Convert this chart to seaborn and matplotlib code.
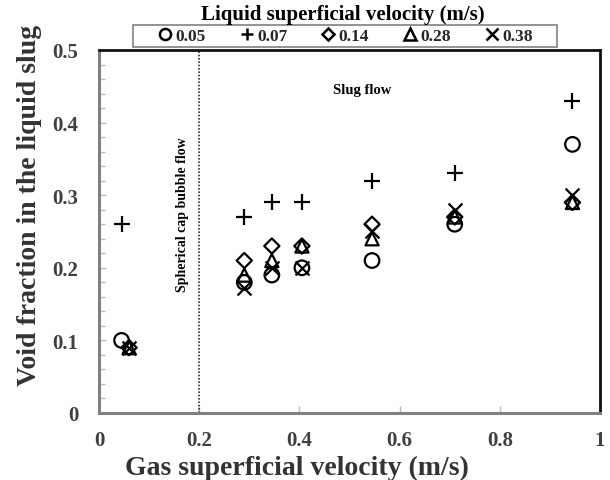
import numpy as np
import pandas as pd
import matplotlib
matplotlib.use("Agg")
import matplotlib.pyplot as plt
import seaborn as sns
from matplotlib.lines import Line2D
from matplotlib.patches import Rectangle
from matplotlib.ticker import MultipleLocator

sns.set_theme(style="white")
plt.rcParams['font.family'] = ['Liberation Serif', 'DejaVu Serif']
plt.rcParams['font.weight'] = 'bold'

# Data
series_labels = ["0.05", "0.07", "0.14", "0.28", "0.38"]
x_first_low = [0.045, 0.29, 0.345, 0.405, 0.545, 0.71, 0.945]
x_first_hi = [0.06, 0.29, 0.345, 0.405, 0.545, 0.71, 0.945]
void_005 = [0.10, 0.18, 0.19, 0.20, 0.21, 0.26, 0.37]
void_007 = [0.26, 0.27, 0.29, 0.29, 0.32, 0.33, 0.43]
void_014 = [0.09, 0.21, 0.23, 0.23, 0.26, 0.27, 0.29]
void_028 = [0.09, 0.19, 0.21, 0.23, 0.24, 0.27, 0.29]
void_038 = [0.09, 0.172, 0.20, 0.20, 0.25, 0.28, 0.30]
x_ticks = [0, 0.2, 0.4, 0.6, 0.8, 1.0]
x_tick_labels = ["0", "0.2", "0.4", "0.6", "0.8", "1"]
y_ticks = [0, 0.1, 0.2, 0.3, 0.4, 0.5]
y_tick_labels = ["0", "0.1", "0.2", "0.3", "0.4", "0.5"]

series = [
    (series_labels[0], x_first_low, void_005, 'o'),
    (series_labels[1], x_first_low, void_007, '+'),
    (series_labels[2], x_first_hi, void_014, 'D'),
    (series_labels[3], x_first_hi, void_028, '^'),
    (series_labels[4], x_first_hi, void_038, 'x'),
]
marker_sizes = {'o': 110, '+': 120, 'D': 60, '^': 90, 'x': 100}
legend_ms = {'o': 8, '+': 9, 'D': 6, '^': 8, 'x': 8}

fig = plt.figure(figsize=(6.1, 4.81), dpi=100)
ax = fig.add_axes([0.1623, 0.1393, 0.8213, 0.7547])

handles = []
for lab, xs, ys, m in series:
    df = pd.DataFrame({"x": xs, "y": ys})
    if m in ('+', 'x'):
        sns.scatterplot(data=df, x="x", y="y", marker=m, color='black',
                        s=marker_sizes[m], linewidth=1.6, ax=ax, zorder=3)
    else:
        sns.scatterplot(data=df, x="x", y="y", marker=m, facecolor='none',
                        edgecolor='black', s=marker_sizes[m], linewidth=1.6,
                        ax=ax, zorder=3)
    handles.append(Line2D([], [], linestyle='none', marker=m,
                          markerfacecolor='none', markeredgecolor='black',
                          markeredgewidth=1.8, markersize=legend_ms[m], label=lab))

ax.set_xlim(0, 1)
ax.set_ylim(0, 0.5)
ax.axvline(0.2, color='#333333', linestyle=(0, (1, 1)), linewidth=1.2, zorder=1)

ax.yaxis.set_minor_locator(MultipleLocator(0.02))
ax.set_xticks(x_ticks)
ax.set_xticklabels(x_tick_labels)
ax.set_yticks(y_ticks)
ax.set_yticklabels(y_tick_labels)
ax.tick_params(axis='both', which='major', direction='in', length=5, width=1,
               color='#bbbbbb', labelsize=15, labelcolor='#404040')
ax.tick_params(axis='x', which='major', pad=12)
ax.tick_params(axis='y', which='major', pad=15)
ax.tick_params(axis='y', which='minor', direction='in', length=4, width=1,
               color='#bbbbbb', left=True)
ax.tick_params(axis='x', which='major', bottom=True)
ax.tick_params(axis='y', which='major', left=True)
for lbl in ax.get_xticklabels() + ax.get_yticklabels():
    lbl.set_fontweight('bold')

for side in ['left', 'bottom']:
    ax.spines[side].set_color('#808080')
    ax.spines[side].set_linewidth(2.2)
for side in ['top', 'right']:
    ax.spines[side].set_color('#111111')
    ax.spines[side].set_linewidth(2.0)

ax.set_xlabel("")
ax.set_ylabel("")
fig.text(0.487, 0.026, "Gas superficial velocity (m/s)", ha='center', va='center',
         fontsize=20, fontweight='bold', color='#333333')
fig.text(0.049, 0.572, "Void fraction in the liquid slug", ha='center',
         va='center', rotation=90, fontsize=20, fontweight='bold',
         color='#333333')

ax.text(0.166, 0.274, "Spherical cap bubble flow", rotation=90, ha='center',
        va='center', fontsize=10, fontweight='bold', color='black')
ax.text(0.525, 0.446, "Slug flow", ha='center', va='center', fontsize=10.5,
        fontweight='bold', color='black')

# legend box
x0, x1 = 133 / 610, 557 / 610
y0, y1 = 1 - 48 / 481, 1 - 26 / 481
fig.patches.append(Rectangle((x0, y0), x1 - x0, y1 - y0, transform=fig.transFigure,
                             fill=False, edgecolor='#808080', linewidth=1.2))
leg = fig.legend(handles=handles, loc='center', ncol=5,
                 bbox_to_anchor=(0.565, (y0 + y1) / 2),
                 frameon=False, borderaxespad=0,
                 handletextpad=0.1, handlelength=1.0, columnspacing=1.85,
                 borderpad=0.0, prop={'weight': 'bold', 'size': 12.5})
fig.text(0.562, 0.969, "Liquid superficial velocity (m/s)", ha='center',
         va='center', fontsize=15, fontweight='bold', color='black')

ax.grid(False)
fig.savefig("out.png", dpi=100)
